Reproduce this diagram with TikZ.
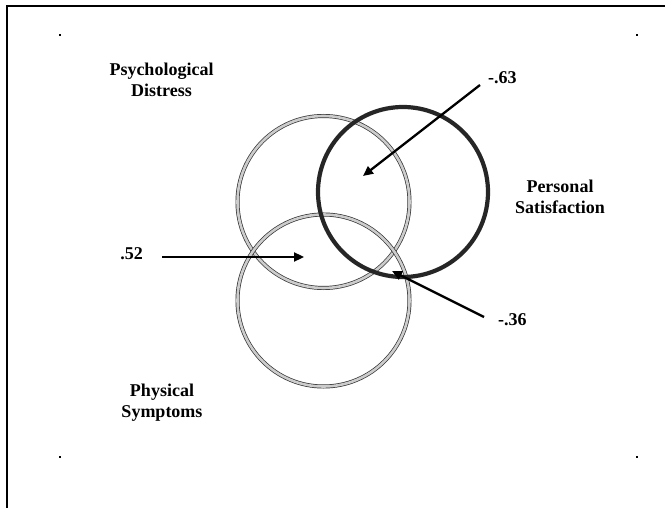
\documentclass[tikz,border=0pt]{standalone}
\usepackage{fontspec}
\setmainfont{Liberation Serif}
\usetikzlibrary{arrows.meta}
\begin{document}
\begin{tikzpicture}[x=1pt,y=-1pt,
  lbl/.style={font=\fontsize{18}{21}\selectfont\bfseries, align=center, inner sep=0pt},
  graycirc/.style={circle, draw=black!80, line width=0.7pt, double=gray!40, double distance=2.6pt, minimum size=172pt, inner sep=0pt},
  blackcirc/.style={circle, draw=black!85, line width=4.2pt, minimum size=170pt, inner sep=0pt},
  arr/.style={line width=2.3pt, -{Triangle[length=10pt,width=9pt]}},
  dotmark/.style={fill=black, inner sep=0pt, minimum size=2pt, rectangle}]
\useasboundingbox (0,0) rectangle (665,508);
% frame
\draw[line width=2pt] (7,508) -- (7,6) -- (665,6);
% corner dots
\node[dotmark] (d1) at (60,35) {};
\node[dotmark] (d2) at (637,35) {};
\node[dotmark] (d3) at (60,457) {};
\node[dotmark] (d4) at (637,457) {};
% circles
\node[graycirc] (pd) at (323.5,202) {};
\node[graycirc] (ps) at (323.5,300.5) {};
\node[blackcirc] (sat) at (403,192) {};
% labels
\node[lbl] (lpd) at (161.5,80) {Psychological\\Distress};
\node[lbl] (lsat) at (560,197) {Personal\\Satisfaction};
\node[lbl] (lps) at (162,403) {Physical\\Symptoms};
\node[lbl] (l52) at (131.5,254) {.52};
\node[lbl, anchor=west] (l36) at (498,320) {-.36};
\node[lbl, anchor=west] (l63) at (488,78) {-.63};
% arrow ends
\coordinate (t63) at (480,85);
\coordinate (h63) at (363,176);
\coordinate (t52) at (162,257);
\coordinate (h52) at (304,257);
\coordinate (t36) at (484,317);
\coordinate (h36) at (392,271);
\draw[arr] (t63) -- (h63);
\draw[arr] (t52) -- (h52);
\draw[arr] (t36) -- (h36);
\end{tikzpicture}
\end{document}
